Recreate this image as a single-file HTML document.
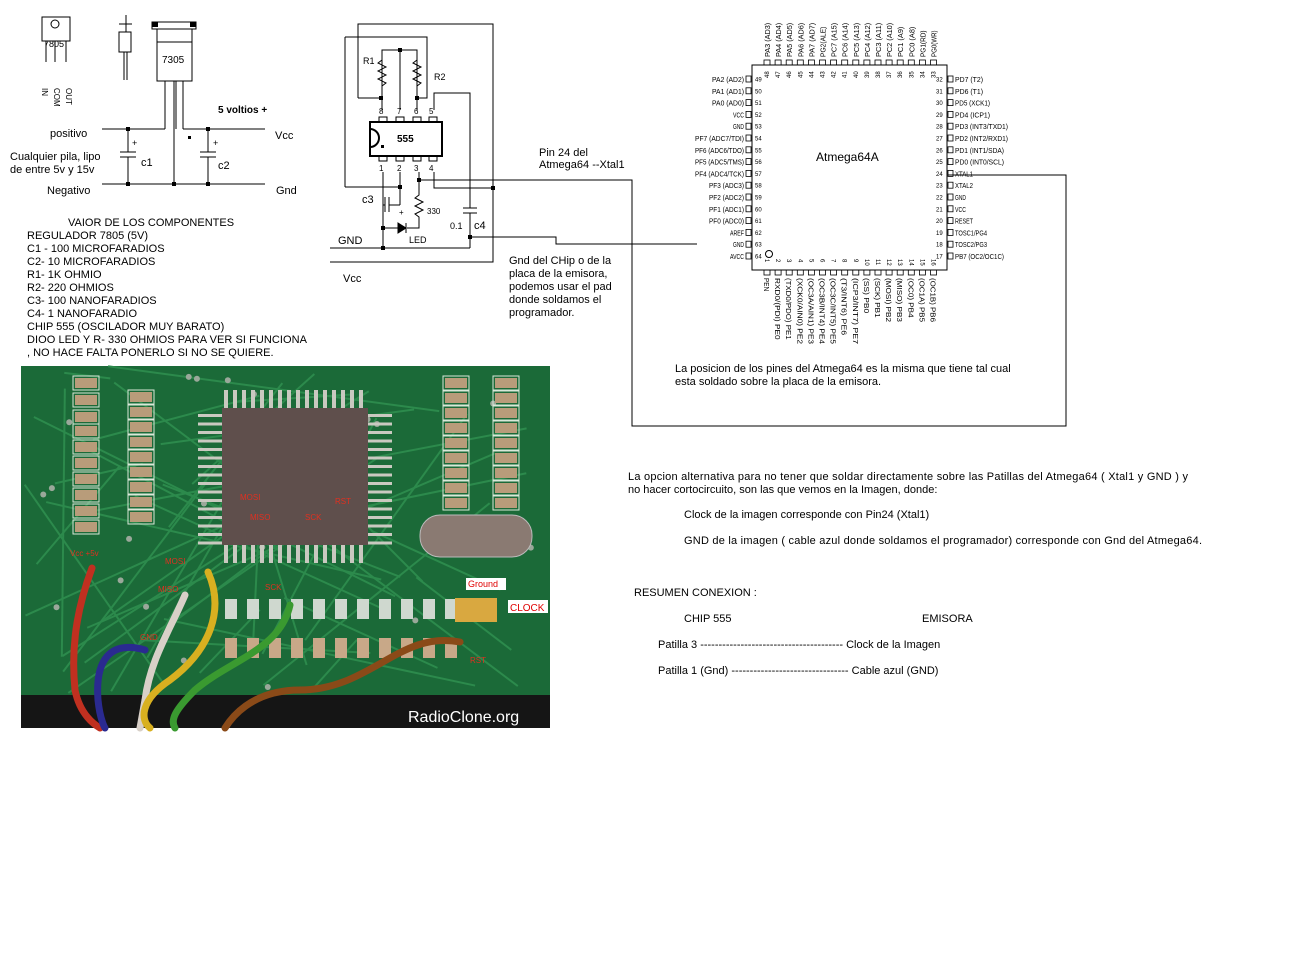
<!DOCTYPE html>
<html><head><meta charset="utf-8"><style>
html,body{margin:0;padding:0;background:#fff;}
svg{display:block;font-family:"Liberation Sans",sans-serif;}
</style></head><body>
<svg id="s" width="1309" height="960" viewBox="0 0 1309 960" xmlns="http://www.w3.org/2000/svg" font-size="11">
<g stroke="#000" stroke-width="1" fill="none">
<rect x="42" y="17" width="28" height="24"/>
<circle cx="55" cy="24" r="4"/>
<line x1="46" y1="41" x2="46" y2="62"/><line x1="55" y1="41" x2="55" y2="62"/><line x1="66" y1="41" x2="66" y2="62"/>
<line x1="126" y1="15" x2="126" y2="32"/><line x1="119" y1="24" x2="132" y2="24"/>
<rect x="119" y="32" width="12" height="20"/><line x1="124" y1="52" x2="124" y2="80"/><line x1="127" y1="52" x2="127" y2="80"/>
<rect x="152" y="22" width="44" height="7"/>
<rect x="157" y="29" width="35" height="52"/>
<line x1="157" y1="42" x2="192" y2="42"/>
<line x1="165" y1="81" x2="165" y2="129"/><line x1="174" y1="81" x2="174" y2="184"/><line x1="176" y1="81" x2="176" y2="129"/><line x1="183" y1="81" x2="183" y2="129"/>
<line x1="102" y1="129" x2="165" y2="129"/><line x1="183" y1="129" x2="265" y2="129"/>
<line x1="102" y1="184" x2="265" y2="184"/>
<line x1="128" y1="129" x2="128" y2="152"/><line x1="120" y1="152" x2="136" y2="152"/><line x1="120" y1="157" x2="136" y2="157"/><line x1="128" y1="157" x2="128" y2="184"/>
<line x1="208" y1="129" x2="208" y2="152"/><line x1="200" y1="152" x2="216" y2="152"/><line x1="200" y1="157" x2="216" y2="157"/><line x1="208" y1="157" x2="208" y2="184"/>
<polyline points="358,98 358,24 493,24 493,262 330,262"/>
<polyline points="381,98 358,98"/>
<polyline points="345,37 427,37 427,98 417,98"/>
<line x1="345" y1="37" x2="345" y2="187"/><line x1="345" y1="187" x2="401" y2="187"/>
<polyline points="382,98 382,50 417,50 417,98"/><line x1="400" y1="50" x2="400" y2="110"/>
<polyline points="382,60 378,63 386,67 378,71 386,75 378,79 386,83 382,86" />
<polyline points="417,60 413,63 421,67 413,71 421,75 413,79 421,83 417,86" />
<line x1="382" y1="98" x2="382" y2="110"/><line x1="417" y1="98" x2="417" y2="110"/>
<polyline points="434,110 434,93 470,93 470,208"/><line x1="470" y1="213" x2="470" y2="248"/>
<line x1="463" y1="208" x2="477" y2="208"/><line x1="463" y1="213" x2="477" y2="213"/>
<rect x="370" y="122" width="72" height="34" stroke-width="2"/>
<path d="M370,129 A9,9 0 0 1 370,147" stroke-width="2"/>
<rect x="379" y="117" width="8" height="5"/><rect x="396" y="117" width="8" height="5"/><rect x="413" y="117" width="8" height="5"/><rect x="429" y="117" width="8" height="5"/>
<rect x="379" y="156" width="8" height="5"/><rect x="396" y="156" width="8" height="5"/><rect x="413" y="156" width="8" height="5"/><rect x="429" y="156" width="8" height="5"/>
<line x1="383" y1="172" x2="383" y2="248"/><line x1="400" y1="172" x2="400" y2="187"/>
<line x1="400" y1="187" x2="400" y2="205"/>
<line x1="385" y1="197" x2="385" y2="212"/><line x1="389" y1="197" x2="389" y2="212"/><line x1="389" y1="205" x2="400" y2="205"/><line x1="383" y1="205" x2="385" y2="205"/>
<polyline points="419,172 419,195 415,198 423,202 415,206 423,210 415,214 419,217 419,228 407,228"/>
<path d="M398,228 L383,228"/><path d="M406,223 L406,233 M406,228 L398,223 L398,233 Z" fill="#000"/>
<polyline points="434,172 434,188 493,188"/>
<line x1="330" y1="248" x2="470" y2="248"/>
<polyline points="420,180 632,180 632,426 1066,426 1066,175 948,175"/>
<polyline points="470,237 556,237 556,244 697,244"/>
<rect x="752" y="65" width="195" height="205"/>
<circle cx="769" cy="254" r="3.5"/>
</g>
<g fill="#000">
<rect x="379" y="96" width="4" height="4"/><rect x="415" y="96" width="4" height="4"/><rect x="398" y="48" width="4" height="4"/>
<rect x="398" y="185" width="4" height="4"/><rect x="417" y="178" width="4" height="4"/><rect x="491" y="186" width="4" height="4"/>
<rect x="381" y="226" width="4" height="4"/><rect x="381" y="246" width="4" height="4"/><rect x="468" y="235" width="4" height="4"/>
<rect x="126" y="127" width="4" height="4"/><rect x="206" y="127" width="4" height="4"/><rect x="126" y="182" width="4" height="4"/><rect x="172" y="182" width="4" height="4"/><rect x="206" y="182" width="4" height="4"/>
<rect x="188" y="136" width="3" height="3"/><rect x="381" y="145" width="3" height="3"/>
<rect x="152" y="22" width="6" height="5"/><rect x="190" y="22" width="6" height="5"/>
</g>
<g fill="#000">
<text x="44" y="47" font-size="9">7805</text>
<text x="162" y="63" font-size="10">7305</text>
<text x="42" y="88" font-size="8" transform="rotate(90 42 88)">IN</text>
<text x="54" y="88" font-size="8" transform="rotate(90 54 88)">COM</text>
<text x="66" y="88" font-size="8" transform="rotate(90 66 88)">OUT</text>
<text x="218" y="113" font-weight="bold" font-size="10">5 voltios +</text>
<text x="50" y="137">positivo</text>
<text x="10" y="160">Cualquier pila, lipo</text>
<text x="10" y="173">de entre 5v  y 15v</text>
<text x="47" y="194">Negativo</text>
<text x="141" y="166">c1</text><text x="218" y="169">c2</text>
<text x="132" y="146" font-size="9">+</text><text x="213" y="146" font-size="9">+</text>
<text x="275" y="139">Vcc</text><text x="276" y="194">Gnd</text>
<text x="68" y="226">VAIOR DE LOS COMPONENTES</text>
<text x="27" y="239">REGULADOR 7805  (5V)</text>
<text x="27" y="252">C1 - 100 MICROFARADIOS</text>
<text x="27" y="265">C2-  10   MICROFARADIOS</text>
<text x="27" y="278">R1- 1K OHMIO</text>
<text x="27" y="291">R2- 220 OHMIOS</text>
<text x="27" y="304">C3- 100 NANOFARADIOS</text>
<text x="27" y="317">C4-  1 NANOFARADIO</text>
<text x="27" y="330">CHIP 555 (OSCILADOR MUY BARATO)</text>
<text x="27" y="343" textLength="280">DIOO LED Y R- 330 OHMIOS PARA VER SI FUNCIONA</text>
<text x="27" y="356">, NO HACE FALTA PONERLO SI NO SE QUIERE.</text>
<text x="363" y="64" font-size="9">R1</text><text x="434" y="80" font-size="9">R2</text>
<text x="379" y="114" font-size="8">8</text><text x="397" y="114" font-size="8">7</text><text x="414" y="114" font-size="8">6</text><text x="429" y="114" font-size="8">5</text>
<text x="379" y="171" font-size="8">1</text><text x="397" y="171" font-size="8">2</text><text x="414" y="171" font-size="8">3</text><text x="429" y="171" font-size="8">4</text>
<text x="397" y="142" font-weight="bold" font-size="10">555</text>
<text x="362" y="203">c3</text><text x="399" y="215" font-size="8">+</text>
<text x="427" y="214" font-size="8">330</text>
<text x="450" y="229" font-size="9">0.1</text><text x="474" y="229">c4</text>
<text x="409" y="243" font-size="9">LED</text>
<text x="338" y="244">GND</text><text x="343" y="282">Vcc</text>
<text x="539" y="156">Pin 24 del</text><text x="539" y="168">Atmega64  --Xtal1</text>
<text x="509" y="264">Gnd del CHip o de  la</text>
<text x="509" y="277">placa de la emisora,</text>
<text x="509" y="290">podemos  usar el pad</text>
<text x="509" y="303">donde soldamos el</text>
<text x="509" y="316">programador.</text>
<text x="816" y="161" font-size="12">Atmega64A</text>
<text x="675" y="372">La posicion de los pines del Atmega64  es la misma que tiene tal cual</text>
<text x="675" y="385">esta soldado sobre la placa de la emisora.</text>
<text x="628" y="480" textLength="560">La opcion alternativa para no tener que soldar directamente sobre las Patillas del Atmega64 ( Xtal1 y GND ) y</text>
<text x="628" y="493">no hacer cortocircuito, son las que vemos en la Imagen,  donde:</text>
<text x="684" y="518">Clock  de la imagen corresponde con Pin24  (Xtal1)</text>
<text x="684" y="544" textLength="518">GND de la imagen ( cable azul donde soldamos el programador) corresponde con Gnd del  Atmega64.</text>
<text x="634" y="596">RESUMEN CONEXION :</text>
<text x="684" y="622">CHIP 555</text><text x="922" y="622">EMISORA</text>
<text x="658" y="648">Patilla 3 ---------------------------------------  Clock de la Imagen</text>
<text x="658" y="674">Patilla 1 (Gnd) --------------------------------   Cable azul  (GND)</text>
</g>
<g id="pins" fill="#000"></g>
<g id="photo"></g>
</svg>
<script>
var NS="http://www.w3.org/2000/svg";
function el(p,t,a,txt){var e=document.createElementNS(NS,t);for(var k in a)e.setAttribute(k,a[k]);if(txt!=null)e.textContent=txt;p.appendChild(e);return e;}
var P=document.getElementById('pins');
var L=["PA2 (AD2)","PA1 (AD1)","PA0 (AD0)","VCC","GND","PF7 (ADC7/TDI)","PF6 (ADC6/TDO)","PF5 (ADC5/TMS)","PF4 (ADC4/TCK)","PF3 (ADC3)","PF2 (ADC2)","PF1 (ADC1)","PF0 (ADC0)","AREF","GND","AVCC"];
var R=["PD7 (T2)","PD6 (T1)","PD5 (XCK1)","PD4 (ICP1)","PD3 (INT3/TXD1)","PD2 (INT2/RXD1)","PD1 (INT1/SDA)","PD0 (INT0/SCL)","XTAL1","XTAL2","GND","VCC","RESET","TOSC1/PG4","TOSC2/PG3","PB7 (OC2/OC1C)"];
var T=["PA3 (AD3)","PA4 (AD4)","PA5 (AD5)","PA6 (AD6)","PA7 (AD7)","PG2(ALE)","PC7 (A15)","PC6 (A14)","PC5 (A13)","PC4 (A12)","PC3 (A11)","PC2 (A10)","PC1 (A9)","PC0 (A8)","PG1(RD)","PG0(WR)"];
var B=["PEN","RXD0/(PDI) PE0","(TXD0/PDO) PE1","(XCK0/AIN0) PE2","(OC3A/AIN1) PE3","(OC3B/INT4) PE4","(OC3C/INT5) PE5","(T3/INT6) PE6","(ICP3/INT7) PE7","(SS) PB0","(SCK) PB1","(MOSI) PB2","(MISO) PB3","(OC0) PB4","(OC1A) PB5","(OC1B) PB6"];
function tl(s){return String(Math.round(s.length*3.5));}
for(var i=0;i<16;i++){
 var y=79+i*11.8;
 el(P,'rect',{x:746,y:y-3,width:5,height:6,fill:'none',stroke:'#000','stroke-width':0.8});
 el(P,'text',{x:744,y:y+3,'text-anchor':'end','font-size':7.5,textLength:tl(L[i]),lengthAdjust:'spacingAndGlyphs'},L[i]);
 el(P,'text',{x:755,y:y+2.5,'font-size':6},String(49+i));
 el(P,'rect',{x:948,y:y-3,width:5,height:6,fill:'none',stroke:'#000','stroke-width':0.8});
 el(P,'text',{x:955,y:y+3,'font-size':7.5,textLength:tl(R[i]),lengthAdjust:'spacingAndGlyphs'},R[i]);
 el(P,'text',{x:936,y:y+2.5,'font-size':6},String(32-i));
 var x=767+i*11.1;
 el(P,'rect',{x:x-3,y:60,width:6,height:5,fill:'none',stroke:'#000','stroke-width':0.8});
 el(P,'text',{x:x+3,y:57,'font-size':7.5,transform:'rotate(-90 '+(x+3)+' 57)',textLength:String(Math.min(40,T[i].length*3.8)),lengthAdjust:'spacingAndGlyphs'},T[i]);
 el(P,'text',{x:x+2,y:78,'font-size':6,transform:'rotate(-90 '+(x+2)+' 78)'},String(48-i));
 el(P,'rect',{x:x-3,y:270,width:6,height:5,fill:'none',stroke:'#000','stroke-width':0.8});
 el(P,'text',{x:x-3,y:278,'font-size':7.5,transform:'rotate(90 '+(x-3)+' 278)',textLength:String(Math.min(68,B[i].length*4.4)),lengthAdjust:'spacingAndGlyphs'},B[i]);
 el(P,'text',{x:x-2,y:259,'font-size':6,transform:'rotate(90 '+(x-2)+' 259)'},String(i+1));
}
var G=document.getElementById('photo');
el(G,'rect',{x:21,y:366,width:529,height:362,fill:'#1b6a38'});
var seed=7;function rnd(){seed=(seed*9301+49297)%233280;return seed/233280;}
for(var i=0;i<45;i++){el(G,'line',{x1:21+rnd()*529,y1:366+rnd()*330,x2:21+rnd()*529,y2:366+rnd()*330,stroke:'#2c8a4c','stroke-width':2});}
for(var i=0;i<30;i++){el(G,'circle',{cx:25+rnd()*520,cy:370+rnd()*320,r:3,fill:'#9aa89a'});}
function resCol(x,y0,n,dy){for(var k=0;k<n;k++){el(G,'rect',{x:x-2,y:y0+k*dy-2,width:26,height:14,fill:'none',stroke:'#d8e8d8','stroke-width':1});el(G,'rect',{x:x,y:y0+k*dy,width:22,height:10,fill:'#b89c7a'});}}
resCol(75,378,3,17);resCol(75,426,7,16);resCol(130,392,9,15);resCol(445,378,9,15);resCol(495,378,9,15);
for(var k=0;k<11;k++){el(G,'rect',{x:225+k*22,y:599,width:12,height:20,fill:'#cfd8cf'});el(G,'rect',{x:225+k*22,y:638,width:12,height:20,fill:'#c8a888'});}
for(var k=0;k<16;k++){el(G,'rect',{x:224+k*9,y:390,width:4,height:18,fill:'#c9c9c0'});el(G,'rect',{x:224+k*9,y:545,width:4,height:18,fill:'#c9c9c0'});el(G,'rect',{x:198,y:414+k*8.5,width:24,height:3,fill:'#c9c9c0'});el(G,'rect',{x:368,y:414+k*8.5,width:24,height:3,fill:'#c9c9c0'});}
el(G,'rect',{x:222,y:408,width:146,height:137,fill:'#5f4f4c'});
function rt(x,y,s,sz){el(G,'text',{x:x,y:y,'font-size':sz||8,fill:'#e03020'},s);}
rt(240,500,'MOSI');rt(335,504,'RST');rt(250,520,'MISO');rt(305,520,'SCK');
el(G,'rect',{x:420,y:515,width:112,height:42,rx:20,fill:'#8a7a72',stroke:'#bbb'});
el(G,'rect',{x:455,y:598,width:42,height:24,fill:'#d9a840'});
el(G,'rect',{x:466,y:578,width:40,height:12,fill:'#fff'});el(G,'text',{x:468,y:587,'font-size':9,fill:'#e00000'},'Ground');
el(G,'rect',{x:508,y:600,width:40,height:13,fill:'#fff'});el(G,'text',{x:510,y:611,'font-size':10,fill:'#e00000'},'CLOCK');
rt(70,556,'Vcc +5v');rt(165,564,'MOSI');rt(158,592,'MISO');rt(265,590,'SCK');rt(140,640,'GND');rt(470,663,'RST');
el(G,'rect',{x:21,y:695,width:529,height:33,fill:'#151515'});
function w(d,c){el(G,'path',{d:d,stroke:c,'stroke-width':7,fill:'none','stroke-linecap':'round'});}
w('M92,568 C80,600 70,640 75,690 C80,715 95,725 100,728','#c03020');
w('M145,650 C110,640 95,660 98,700 C100,720 105,728 105,728','#2a2a90');
w('M185,595 C170,630 150,660 145,700 L140,728','#d8d0c8');
w('M208,572 C225,610 210,650 170,680 C140,700 140,720 150,728','#d8b020');
w('M290,605 C280,650 230,660 195,690 C175,710 170,720 175,728','#3a9a30');
w('M460,642 C400,630 370,690 300,690 C250,690 230,720 225,728','#8a4a18');
el(G,'text',{x:408,y:722,'font-size':16,fill:'#fff'},'RadioClone.org');
</script>
</body></html>
